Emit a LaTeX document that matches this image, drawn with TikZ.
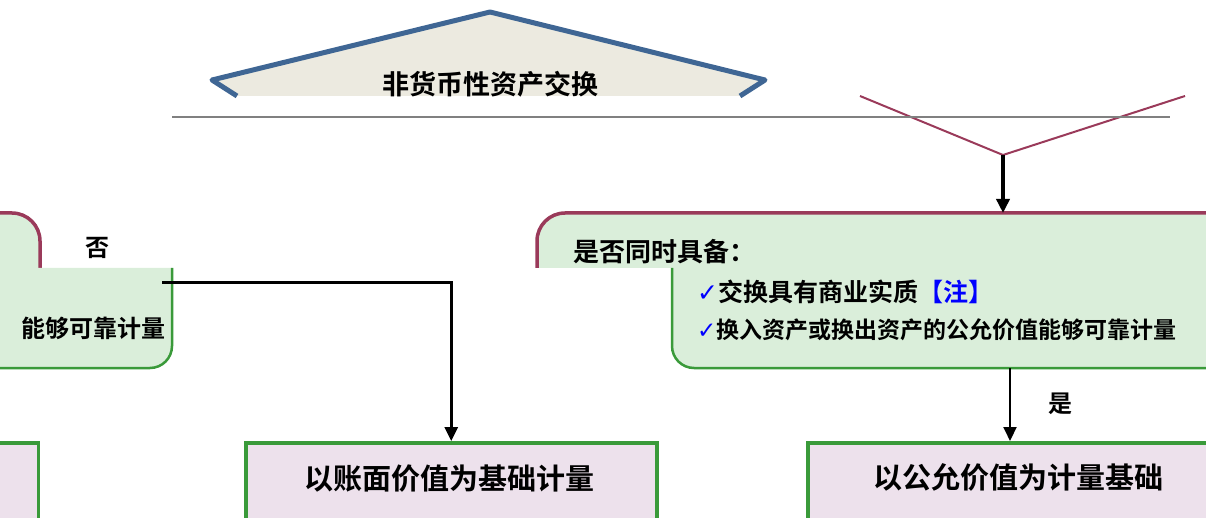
\documentclass[tikz,border=0pt]{standalone}
\usepackage{fontspec}
\newfontfamily\cjk{Noto Sans CJK SC}[BoldFont={* Bold}]
\newfontfamily\symf{DejaVu Sans}
\usetikzlibrary{arrows.meta}
\definecolor{boxgreen}{HTML}{DAEEDA}
\definecolor{boxred}{HTML}{9A3A5A}
\definecolor{resfill}{HTML}{EDE1EC}
\definecolor{resline}{HTML}{3A9A3A}
\definecolor{dmfill}{HTML}{ECEAE0}
\definecolor{dmline}{HTML}{3F6694}
\tikzset{
  x=1pt, y=-1pt,
  condtop/.style={fill=boxgreen, draw=boxred, line width=3.5pt, rounded corners=28pt},
  condlow/.style={fill=boxgreen, draw=resline, line width=2.5pt, rounded corners=22pt},
  resbox/.style={fill=resfill, draw=resline, line width=3.5pt},
  flow/.style={line width=3.5pt, -{Triangle[length=14pt,width=13pt]}},
  txt/.style={font=\cjk\bfseries, inner sep=0pt},
}
\begin{document}
\begin{tikzpicture}
\useasboundingbox (0,0) rectangle (1206,518);
% top shape
\fill[dmfill] (212,80) -- (490,12) -- (765,80) -- (740,96) -- (237,96) -- cycle;
\draw[dmline, line width=5pt, line join=round] (237,96) -- (212,80) -- (490,12) -- (765,80) -- (740,96);
\node[txt, font=\cjk\bfseries\fontsize{27}{27}\selectfont] (dtext) at (490,84) {非货币性资产交换};
\draw[boxred, line width=2pt] (860,96) -- (1003,155) -- (1185,96);
\draw[gray, line width=1.2pt] (172,117) -- (1170,117);
\coordinate (dbottom) at (1003,155);
% right condition box (two pieces)
\path[condtop] (537,268) -- (537,213) -- (1240,213) -- (1240,268);
\path[condlow] (672,268) -- (672,368) -- (1240,368) -- (1240,268);
\coordinate (rtop) at (1003,213);
\coordinate (rbot) at (1010,368);
\node[txt, anchor=west, font=\cjk\bfseries\fontsize{26}{26}\selectfont] (q) at (573,252) {是否同时具备：};
\node[txt, anchor=west, font=\cjk\bfseries\fontsize{25}{25}\selectfont] (c1) at (697,292) {{\symf\color{blue}✓}交换具有商业实质{\color{blue}【注】}};
\node[txt, anchor=west, font=\cjk\bfseries\fontsize{23}{23}\selectfont] (c2) at (697,330) {{\symf\color{blue}✓}换入资产或换出资产的公允价值能够可靠计量};
% left condition box (two pieces)
\path[condtop] (-60,268) -- (-60,213) -- (40,213) -- (40,268);
\path[condlow] (-60,268) -- (-60,368) -- (172,368) -- (172,268);
\coordinate (lout) at (162,283);
\node[txt, anchor=east, font=\cjk\bfseries\fontsize{24}{24}\selectfont] (lt) at (166,328) {能够可靠计量};
\node[txt, font=\cjk\bfseries\fontsize{24}{24}\selectfont] (no) at (97,248) {否};
% result boxes
\node[resbox, minimum width=411pt, minimum height=90pt, anchor=north west, inner sep=0pt] (book) at (244,441) {};
\node[txt, font=\cjk\bfseries\fontsize{29}{29}\selectfont] at (449,479) {以账面价值为基础计量};
\node[resbox, minimum width=450pt, minimum height=90pt, anchor=north west, inner sep=0pt] (fair) at (806,441) {};
\node[txt, font=\cjk\bfseries\fontsize{29}{29}\selectfont] at (1018,477) {以公允价值为计量基础};
\node[resbox, minimum width=100pt, minimum height=90pt, anchor=north east, inner sep=0pt] (lres) at (40,441) {};
% connectors
\draw[flow] (dbottom) -- (rtop);
\draw[flow, line width=3pt] (lout) -| (book.north);
\draw[flow, line width=2pt] (rbot) -- (rbot |- fair.north);
\node[txt, font=\cjk\bfseries\fontsize{24}{24}\selectfont] (yes) at (1060,404) {是};
\end{tikzpicture}
\end{document}
